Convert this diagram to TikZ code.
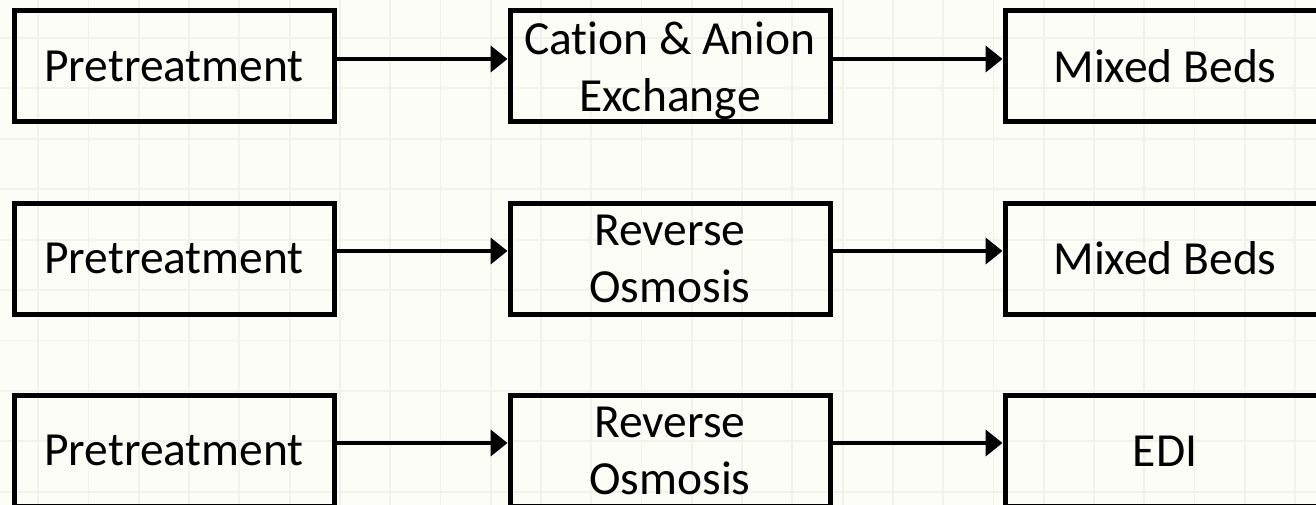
\documentclass[tikz,border=0pt]{standalone}
\usepackage{fontspec}
\setmainfont{Carlito}[RawFeature=-liga]
\usetikzlibrary{arrows.meta}
\definecolor{bgc}{RGB}{253,253,248}
\definecolor{gridc}{RGB}{242,241,236}
\tikzset{
  stage/.style={draw=black, line width=5pt, minimum width=320pt, minimum height=111pt,
    inner sep=0pt, align=center, font=\fontsize{47.5}{57}\selectfont, text=black},
  flow/.style={line width=4.6pt, -{Triangle[length=17pt,width=26pt]}},
  gridline/.style={draw=gridc, line width=1.8pt}
}
\newcommand{\hs}{\rule{0pt}{31pt}}
\begin{document}
\begin{tikzpicture}[x=1pt,y=-1pt]
\useasboundingbox (0,0) rectangle (1316,505);
\clip (0,0) rectangle (1316,505);
\fill[bgc] (0,0) rectangle (1316,505);
\foreach \i in {0,...,25} \draw[gridline] ({38.3+50.27*\i},0) -- ({38.3+50.27*\i},505);
\foreach \j in {0,...,9} \draw[gridline] (0,{38+50.4*\j}) -- (1316,{38+50.4*\j});

\node[stage] (p1) at (174,66.5) {\hs Pretreatment};
\node[stage] (c1) at (670,66.5) {\hs Cation \& Anion\\Exchan\smash{g}e};
\node[stage] (m1) at (1165,66.5) {\hs Mixed Beds};

\node[stage] (p2) at (174,258.5) {\hs Pretreatment};
\node[stage] (r2) at (670,258.5) {\hs Reverse\\Osmosis};
\node[stage] (m2) at (1165,258.5) {\hs Mixed Beds};

\node[stage] (p3) at (174,450.5) {\hs Pretreatment};
\node[stage] (r3) at (670,450.5) {\hs Reverse\\Osmosis};
\node[stage] (e3) at (1165,450.5) {\hs EDI};

\draw[flow] ([yshift=7.5pt]p1.east) -- ([yshift=7.5pt]c1.west);
\draw[flow] ([yshift=7.5pt]c1.east) -- ([yshift=7.5pt]m1.west);
\draw[flow] ([yshift=7.5pt]p2.east) -- ([yshift=7.5pt]r2.west);
\draw[flow] ([yshift=7.5pt]r2.east) -- ([yshift=7.5pt]m2.west);
\draw[flow] ([yshift=7.5pt]p3.east) -- ([yshift=7.5pt]r3.west);
\draw[flow] ([yshift=7.5pt]r3.east) -- ([yshift=7.5pt]e3.west);
\end{tikzpicture}
\end{document}
